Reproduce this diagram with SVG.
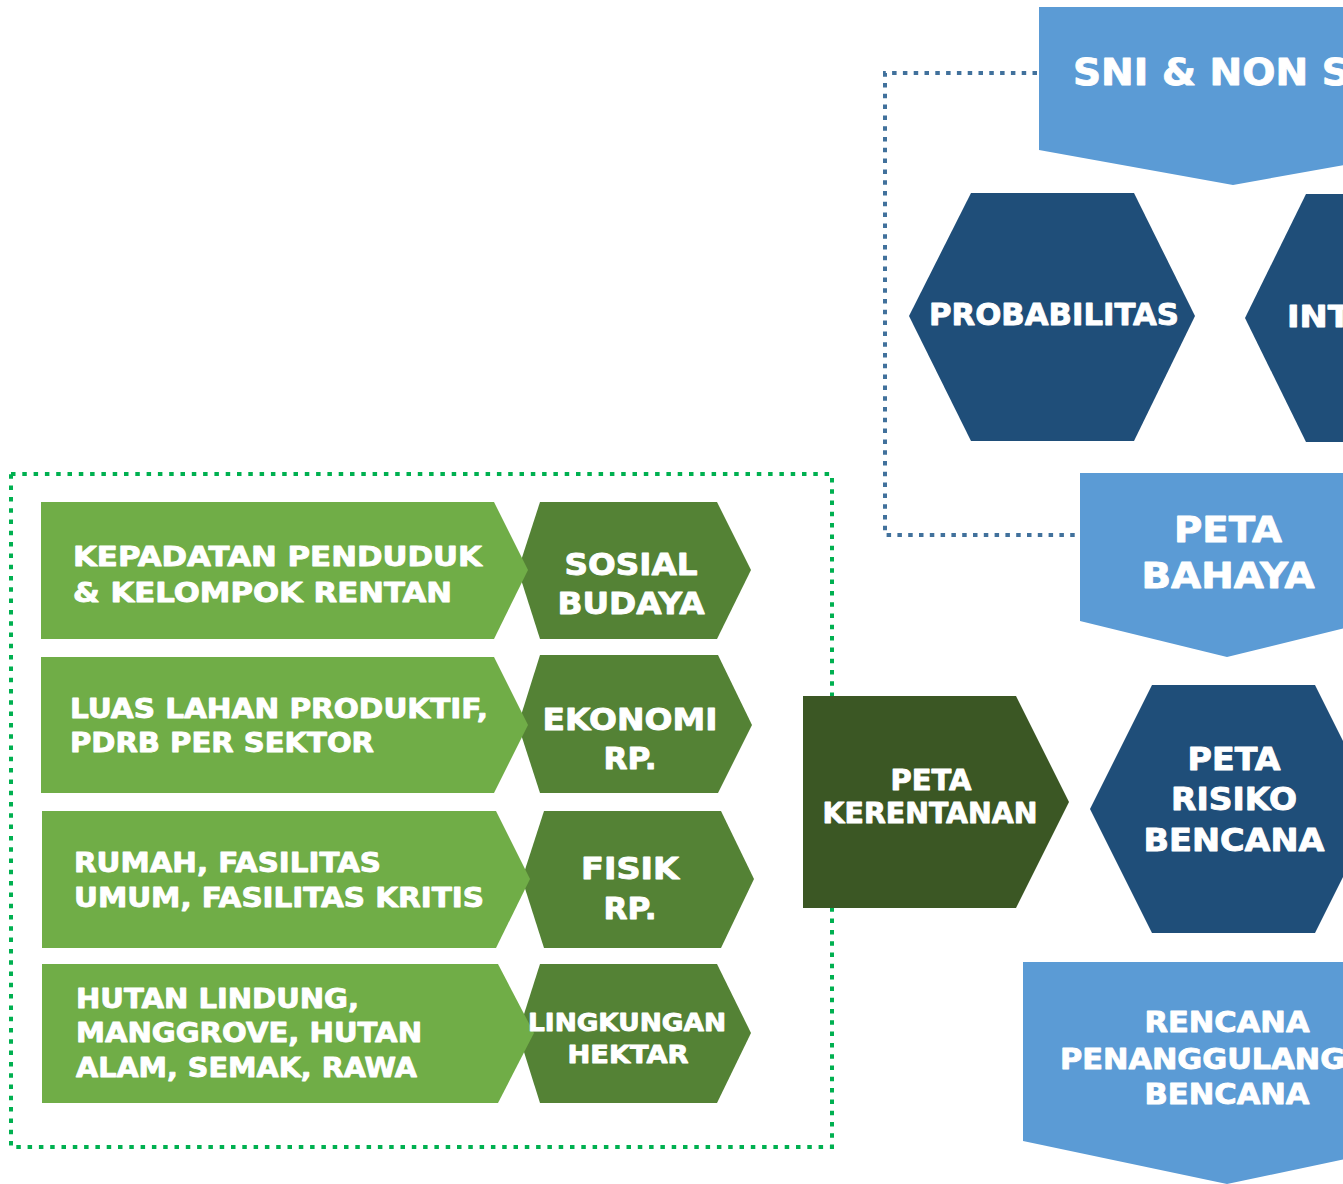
<svg xmlns="http://www.w3.org/2000/svg" width="1343" height="1184" viewBox="0 0 1343 1184">
<style>
text{font-family:"DejaVu Sans","Liberation Sans",sans-serif;font-weight:bold;fill:#FFFFFF;stroke:#FFFFFF;stroke-width:0.9px;stroke-linejoin:round;}
.mid{text-anchor:middle;}
.lblue{fill:#5B9BD5;}
.navy{fill:#1F4E79;}
.lgreen{fill:#70AD47;}
.mgreen{fill:#548235;}
.dgreen{fill:#3B5724;}
.row{font-size:27px;}
.hex{font-size:31px;}
</style>
<rect width="1343" height="1184" fill="#FFFFFF"/>
<g id="connectors" fill="none">
<path d="M1037,73 H885 V535 H1080" stroke="#41719C" stroke-width="4" stroke-dasharray="4.5 6.3"/>
<rect x="11" y="474" width="821" height="673" stroke="#00B050" stroke-width="4" stroke-dasharray="4.5 6.8"/>
</g>
<g id="sni">
<polygon class="lblue" points="1039,7 1427,7 1427,150 1233,185 1039,150"/>
<text x="1073" y="85" font-size="38" textLength="324" lengthAdjust="spacingAndGlyphs">SNI &amp; NON SNI</text>
</g>
<g id="probabilitas">
<polygon class="navy" points="909,316 971,193 1134,193 1195,316 1134,441 971,441"/>
<text class="mid" x="1054" y="325" font-size="30" textLength="250" lengthAdjust="spacingAndGlyphs">PROBABILITAS</text>
</g>
<g id="intensitas">
<polygon class="navy" points="1245,318 1306,194 1469,194 1531,318 1469,442 1306,442"/>
<text x="1287" y="327" font-size="30" textLength="222" lengthAdjust="spacingAndGlyphs">INTENSITAS</text>
</g>
<g id="peta-bahaya">
<polygon class="lblue" points="1080,473 1374,473 1374,621 1227,657 1080,621"/>
<text class="mid" x="1228" y="542" font-size="35" textLength="108" lengthAdjust="spacingAndGlyphs">PETA</text>
<text class="mid" x="1228" y="588" font-size="35" textLength="173" lengthAdjust="spacingAndGlyphs">BAHAYA</text>
</g>
<g id="row-sosial">
<polygon class="mgreen" points="518,570 540,502 717,502 751,570 717,639 540,639"/>
<polygon class="lgreen" points="41,502 494,502 528,570 494,639 41,639"/>
<text class="row" x="73" y="566" textLength="409" lengthAdjust="spacingAndGlyphs">KEPADATAN PENDUDUK</text>
<text class="row" x="73" y="602" textLength="379" lengthAdjust="spacingAndGlyphs">&amp; KELOMPOK RENTAN</text>
<text class="hex mid" x="631" y="575" textLength="133" lengthAdjust="spacingAndGlyphs">SOSIAL</text>
<text class="hex mid" x="631" y="614" textLength="147" lengthAdjust="spacingAndGlyphs">BUDAYA</text>
</g>
<g id="row-ekonomi">
<polygon class="mgreen" points="518,725 540,655 718,655 752,725 718,793 540,793"/>
<polygon class="lgreen" points="41,657 494,657 528,725 494,793 41,793"/>
<text class="row" x="70" y="718" textLength="418" lengthAdjust="spacingAndGlyphs">LUAS LAHAN PRODUKTIF,</text>
<text class="row" x="70" y="752" textLength="304" lengthAdjust="spacingAndGlyphs">PDRB PER SEKTOR</text>
<text class="hex mid" x="630" y="730" font-size="30" textLength="175" lengthAdjust="spacingAndGlyphs">EKONOMI</text>
<text class="hex mid" x="630" y="769" font-size="30" textLength="53" lengthAdjust="spacingAndGlyphs">RP.</text>
</g>
<g id="row-fisik">
<polygon class="mgreen" points="522,879 544,811 721,811 754,879 721,948 544,948"/>
<polygon class="lgreen" points="42,811 496,811 530,879 496,948 42,948"/>
<text class="row" x="74" y="872" textLength="307" lengthAdjust="spacingAndGlyphs">RUMAH, FASILITAS</text>
<text class="row" x="74" y="907" textLength="410" lengthAdjust="spacingAndGlyphs">UMUM, FASILITAS KRITIS</text>
<text class="hex mid" x="630" y="879" textLength="98" lengthAdjust="spacingAndGlyphs">FISIK</text>
<text class="hex mid" x="630" y="919" textLength="53" lengthAdjust="spacingAndGlyphs">RP.</text>
</g>
<g id="row-lingkungan">
<polygon class="mgreen" points="518,1033 540,964 717,964 751,1033 717,1103 540,1103"/>
<polygon class="lgreen" points="42,964 498,964 534,1033 498,1103 42,1103"/>
<text class="row" x="76" y="1008" textLength="283" lengthAdjust="spacingAndGlyphs">HUTAN LINDUNG,</text>
<text class="row" x="76" y="1042" textLength="346" lengthAdjust="spacingAndGlyphs">MANGGROVE, HUTAN</text>
<text class="row" x="76" y="1077" textLength="341" lengthAdjust="spacingAndGlyphs">ALAM, SEMAK, RAWA</text>
<text class="mid" x="627" y="1031" font-size="24" textLength="198" lengthAdjust="spacingAndGlyphs">LINGKUNGAN</text>
<text class="mid" x="628" y="1063" font-size="24" textLength="121" lengthAdjust="spacingAndGlyphs">HEKTAR</text>
</g>
<g id="peta-kerentanan">
<polygon class="dgreen" points="803,696 1016,696 1069,802 1016,908 803,908"/>
<text class="mid" x="931" y="790" font-size="29" textLength="81" lengthAdjust="spacingAndGlyphs">PETA</text>
<text class="mid" x="930" y="823" font-size="29" textLength="215" lengthAdjust="spacingAndGlyphs">KERENTANAN</text>
</g>
<g id="peta-risiko">
<polygon class="navy" points="1090,809 1152,685 1315,685 1377,809 1315,933 1152,933"/>
<text class="mid" x="1234" y="770" font-size="32" textLength="93" lengthAdjust="spacingAndGlyphs">PETA</text>
<text class="mid" x="1234" y="810" font-size="32" textLength="126" lengthAdjust="spacingAndGlyphs">RISIKO</text>
<text class="mid" x="1234" y="851" font-size="32" textLength="181" lengthAdjust="spacingAndGlyphs">BENCANA</text>
</g>
<g id="rencana">
<polygon class="lblue" points="1023,962 1431,962 1431,1141 1227,1184 1023,1141"/>
<text class="mid" x="1227" y="1032" font-size="29" textLength="165" lengthAdjust="spacingAndGlyphs">RENCANA</text>
<text class="mid" x="1227" y="1069" font-size="29" textLength="334" lengthAdjust="spacingAndGlyphs">PENANGGULANGAN</text>
<text class="mid" x="1227" y="1104" font-size="29" textLength="165" lengthAdjust="spacingAndGlyphs">BENCANA</text>
</g>
</svg>
